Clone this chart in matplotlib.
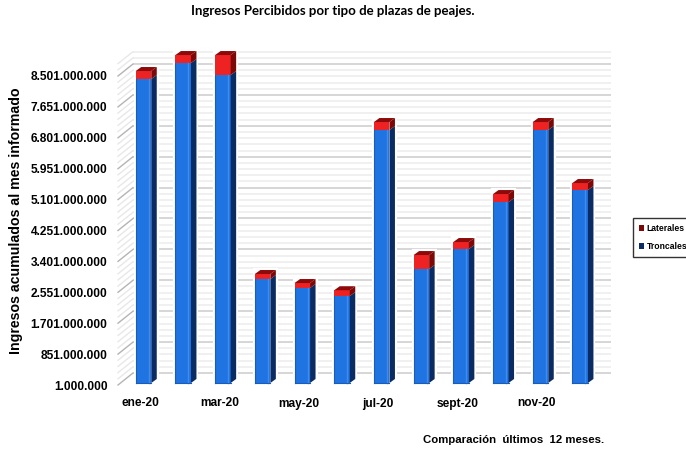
import matplotlib
matplotlib.use("Agg")
import matplotlib.pyplot as plt
from matplotlib.patches import Polygon, Patch
from matplotlib.transforms import ScaledTranslation

meses = ["ene-20", "feb-20", "mar-20", "abr-20", "may-20", "jun-20",
         "jul-20", "ago-20", "sept-20", "oct-20", "nov-20", "dic-20"]
troncales = [8362e6, 8803e6, 8473e6, 2861e6, 2613e6, 2393e6,
             6960e6, 3136e6, 3686e6, 4979e6, 6960e6, 5309e6]
laterales = [221e6, 220e6, 550e6, 138e6, 138e6, 160e6,
             220e6, 385e6, 193e6, 220e6, 220e6, 193e6]
y_ticks = [1000000, 851000000, 1701000000, 2551000000, 3401000000, 4251000000,
           5101000000, 5951000000, 6801000000, 7651000000, 8501000000]

W, H = 686, 450
plt.rcParams["font.family"] = ["Liberation Sans", "DejaVu Sans"]

fig = plt.figure(figsize=(W / 100, H / 100), dpi=100, facecolor="white")

# front plane of the fake 3D box, in pixels
left, right, bottom, top = 118, 596, 385, 62
ax = fig.add_axes([left / W, 1 - bottom / H, (right - left) / W, (bottom - top) / H])
px_x = 39.7                 # pixels per category
px_y = 850e6 / 30.9         # value per pixel
x_min = -(140 - left) / px_x
ax.set_xlim(x_min, x_min + (right - left) / px_x)
ax.set_ylim(1e6, 1e6 + (bottom - top) * px_y)
ax.patch.set_visible(False)
for s in ax.spines.values():
    s.set_visible(False)


def dx(p):
    return p / px_x


def dy(p):
    return p * px_y


# walls: depth of the box is 15 px across, 12 px up
wall_x, wall_y = dx(15), dy(12)
x0, x1 = ax.get_xlim()
y0, y1 = ax.get_ylim()
minor_step = 850e6 / 5
v = y0
while v < y1 - 1:
    major = abs((v - y0) / 850e6 - round((v - y0) / 850e6)) < 1e-6
    col = "#cccccc" if major else "#eeeeee"
    lw = 1.1 if major else 1.2
    ax.plot([x0 + wall_x, x1 + wall_x], [v + wall_y, v + wall_y], color=col, lw=lw,
            clip_on=False, zorder=2 if major else 1, solid_capstyle="butt")
    ax.plot([x0, x0 + wall_x], [v, v + wall_y], color="#b4b4b4" if major else "#e8e8e8",
            lw=1.0, clip_on=False, zorder=2 if major else 1)
    v += minor_step

# bars sit slightly inside the box
base = y0
w = 15.5 / px_x
off = ax.transData + ScaledTranslation(3.5 / 100, 2 / 100, fig.dpi_scale_trans)
depth_x, depth_y = dx(5.5), dy(4)
x_pos = list(range(len(meses)))

for i in x_pos:
    t = troncales[i]
    tot = t + laterales[i]
    l, r = i - w / 2, i + w / 2
    # white halo that separates the bar from the grid
    ax.add_patch(Polygon([(l, base), (r + depth_x, base), (r + depth_x, tot + depth_y), (l, tot + depth_y)],
                         closed=True, fc="white", ec="white", lw=3, transform=off, zorder=2.5,
                         clip_on=False))
    ax.bar(i, t - base, bottom=base, width=w, color="#1f74e2", transform=off, zorder=3,
           clip_on=False)
    ax.bar(i, laterales[i], bottom=t, width=w, color="#ee2222", transform=off, zorder=3,
           clip_on=False)
    # highlight strip and darker left edge of the front face
    ax.plot([r - dx(2.5), r - dx(2.5)], [base, t], color="#3f8cf0", lw=1.0, transform=off, zorder=4,
            clip_on=False)
    ax.plot([l, l], [base, t], color="#1a5cb8", lw=0.8, transform=off, zorder=4, clip_on=False)
    ax.plot([l, r], [base, base], color="#1a5cb8", lw=0.8, transform=off, zorder=4, clip_on=False)
    # right side
    ax.add_patch(Polygon([(r, base), (r + depth_x, base + depth_y), (r + depth_x, t + depth_y), (r, t)],
                         closed=True, fc="#0b2c62", ec="none", transform=off, zorder=3, clip_on=False))
    ax.add_patch(Polygon([(r, t), (r + depth_x, t + depth_y), (r + depth_x, tot + depth_y), (r, tot)],
                         closed=True, fc="#7c0808", ec="none", transform=off, zorder=3, clip_on=False))
    # cap
    ax.add_patch(Polygon([(l, tot), (l + depth_x, tot + depth_y), (r + depth_x, tot + depth_y), (r, tot)],
                         closed=True, fc="#8e0a0a", ec="none", transform=off, zorder=3, clip_on=False))

ax.set_yticks(y_ticks)
ax.set_yticklabels([f"{t:,}".replace(",", ".") for t in y_ticks], fontsize=8.6, fontweight="bold")
ax.set_xticks(x_pos[::2])
ax.set_xticklabels(meses[::2], fontsize=8.6, fontweight="bold")
ax.tick_params(axis="x", length=0, pad=9)
ax.tick_params(axis="y", length=0, pad=7.5)

ax.set_ylabel("Ingresos acumulados al mes informado", fontsize=10.2, fontweight="bold")
ax.yaxis.set_label_coords(23 / W, 1 - 221 / H, transform=fig.transFigure)

fig.text(333 / W, 1 - 11 / H, "Ingresos Percibidos por tipo de plazas de peajes.", ha="center",
         va="center", fontsize=9.5, fontweight="bold", family=["Lato", "DejaVu Sans"])
fig.text(513.5 / W, 1 - 440 / H, "Comparación  últimos  12 meses.", ha="center", va="center",
         fontsize=8.2, fontweight="bold")

handles = [Patch(fc="#7c0808", ec="none", label="Laterales"),
           Patch(fc="#0b2c62", ec="none", label="Troncales")]
leg = fig.legend(handles=handles, loc="center left", bbox_to_anchor=(633 / W, 1 - 237.5 / H),
                 fontsize=6.2, frameon=True, fancybox=False, edgecolor="black", handlelength=0.6,
                 handleheight=0.6, handletextpad=0.3, labelspacing=1.0, borderpad=0.7, borderaxespad=0)
leg.get_frame().set_linewidth(1.0)
for t in leg.get_texts():
    t.set_fontweight("bold")

fig.savefig("out.png", dpi=100, facecolor="white")
